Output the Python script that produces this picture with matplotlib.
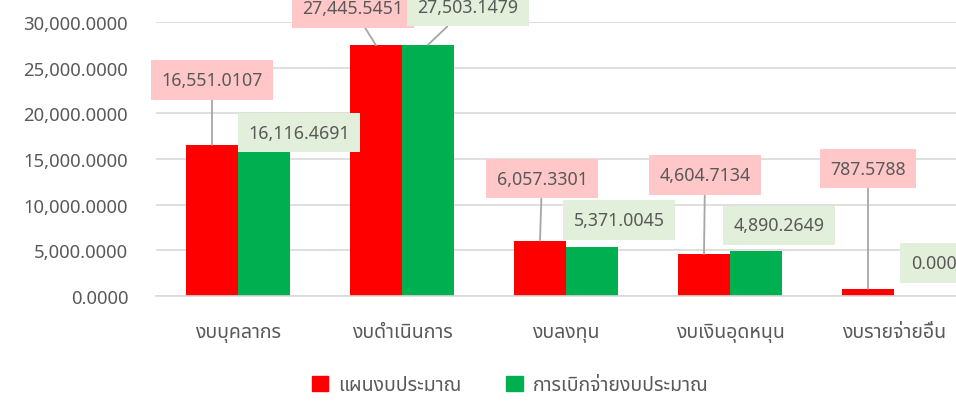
import numpy as np
import matplotlib
matplotlib.use("Agg")
import matplotlib.pyplot as plt
from matplotlib.ticker import FuncFormatter

categories = ["งบบุคลากร", "งบดำเนินการ", "งบลงทุน", "งบเงินอุดหนุน", "งบรายจ่ายอื่น"]
plan = [16551.0107, 27445.5451, 6057.3301, 4604.7134, 787.5788]
spent = [16116.4691, 27503.1479, 5371.0045, 4890.2649, 0.0]
series_names = ["แผนงบประมาณ", "การเบิกจ่ายงบประมาณ"]

# label offsets from the bar top, in pixels (dx, dy), and whether a leader line shows
plan_off = [(0, 65), (-23, 37), (2, 62), (1, 79), (0, 120)]
plan_lead = [True, True, True, True, True]
spent_off = [(35, 16), (40, 38), (27, 27), (23, 26), (19, 33)]
spent_lead = [False, True, False, False, False]

plt.rcParams["font.family"] = ["Noto Sans Thai", "Noto Sans", "DejaVu Sans"]
txt = "#595959"
grid = "#d9d9d9"

fig = plt.figure(figsize=(9.56, 4.02), dpi=100)
ax = fig.add_axes([156 / 956, 105 / 402, 820 / 956, 274 / 402])
x = np.arange(len(categories))
w = 52 / 164
ax.bar(x - w / 2, plan, w, color="#ff0000", zorder=2)
ax.bar(x + w / 2, spent, w, color="#00b050", zorder=2)
ax.set_xlim(-0.5, len(categories) - 0.5)
ax.set_ylim(0, 30000)
ax.set_yticks(np.arange(0, 30001, 5000))
ax.yaxis.set_major_formatter(FuncFormatter(lambda v, p: f"{v:,.4f}"))
ax.set_xticks(x, categories)
ax.grid(axis="y", color=grid, lw=1.2, zorder=0)
for s in ["top", "right", "left"]:
    ax.spines[s].set_visible(False)
ax.spines["bottom"].set_color(grid)
ax.spines["bottom"].set_linewidth(1.2)
ax.tick_params(axis="y", length=0, pad=20, labelsize=13.3, labelcolor=txt)
ax.tick_params(axis="x", length=0, pad=19, labelsize=14, labelcolor=txt)


def label(xv, yv, off, lead, fc):
    ap = dict(arrowstyle="-", color="#a6a6a6", lw=1.3, shrinkA=0, shrinkB=0) if lead else None
    ax.annotate(f"{yv:,.4f}", xy=(xv, yv), xytext=off, textcoords="offset pixels",
                ha="center", va="center", fontsize=12.8, color=txt, zorder=5,
                bbox=dict(boxstyle="square,pad=0.6", fc=fc, ec="none"),
                arrowprops=ap, annotation_clip=False)


for i in range(len(categories)):
    label(x[i] - w / 2, plan[i], plan_off[i], plan_lead[i], "#ffc7c7")
    label(x[i] + w / 2, spent[i], spent_off[i], spent_lead[i], "#e2efda")

handles = [plt.Rectangle((0, 0), 1, 1, color=c) for c in ["#ff0000", "#00b050"]]
fig.legend(handles, series_names, loc="center", bbox_to_anchor=(510 / 956, 1 - 386 / 402),
           ncol=2, frameon=False, fontsize=14, labelcolor=txt, handlelength=0.85,
           handleheight=0.85, handletextpad=0.5, columnspacing=2.3)

fig.savefig("out.png", dpi=100)
